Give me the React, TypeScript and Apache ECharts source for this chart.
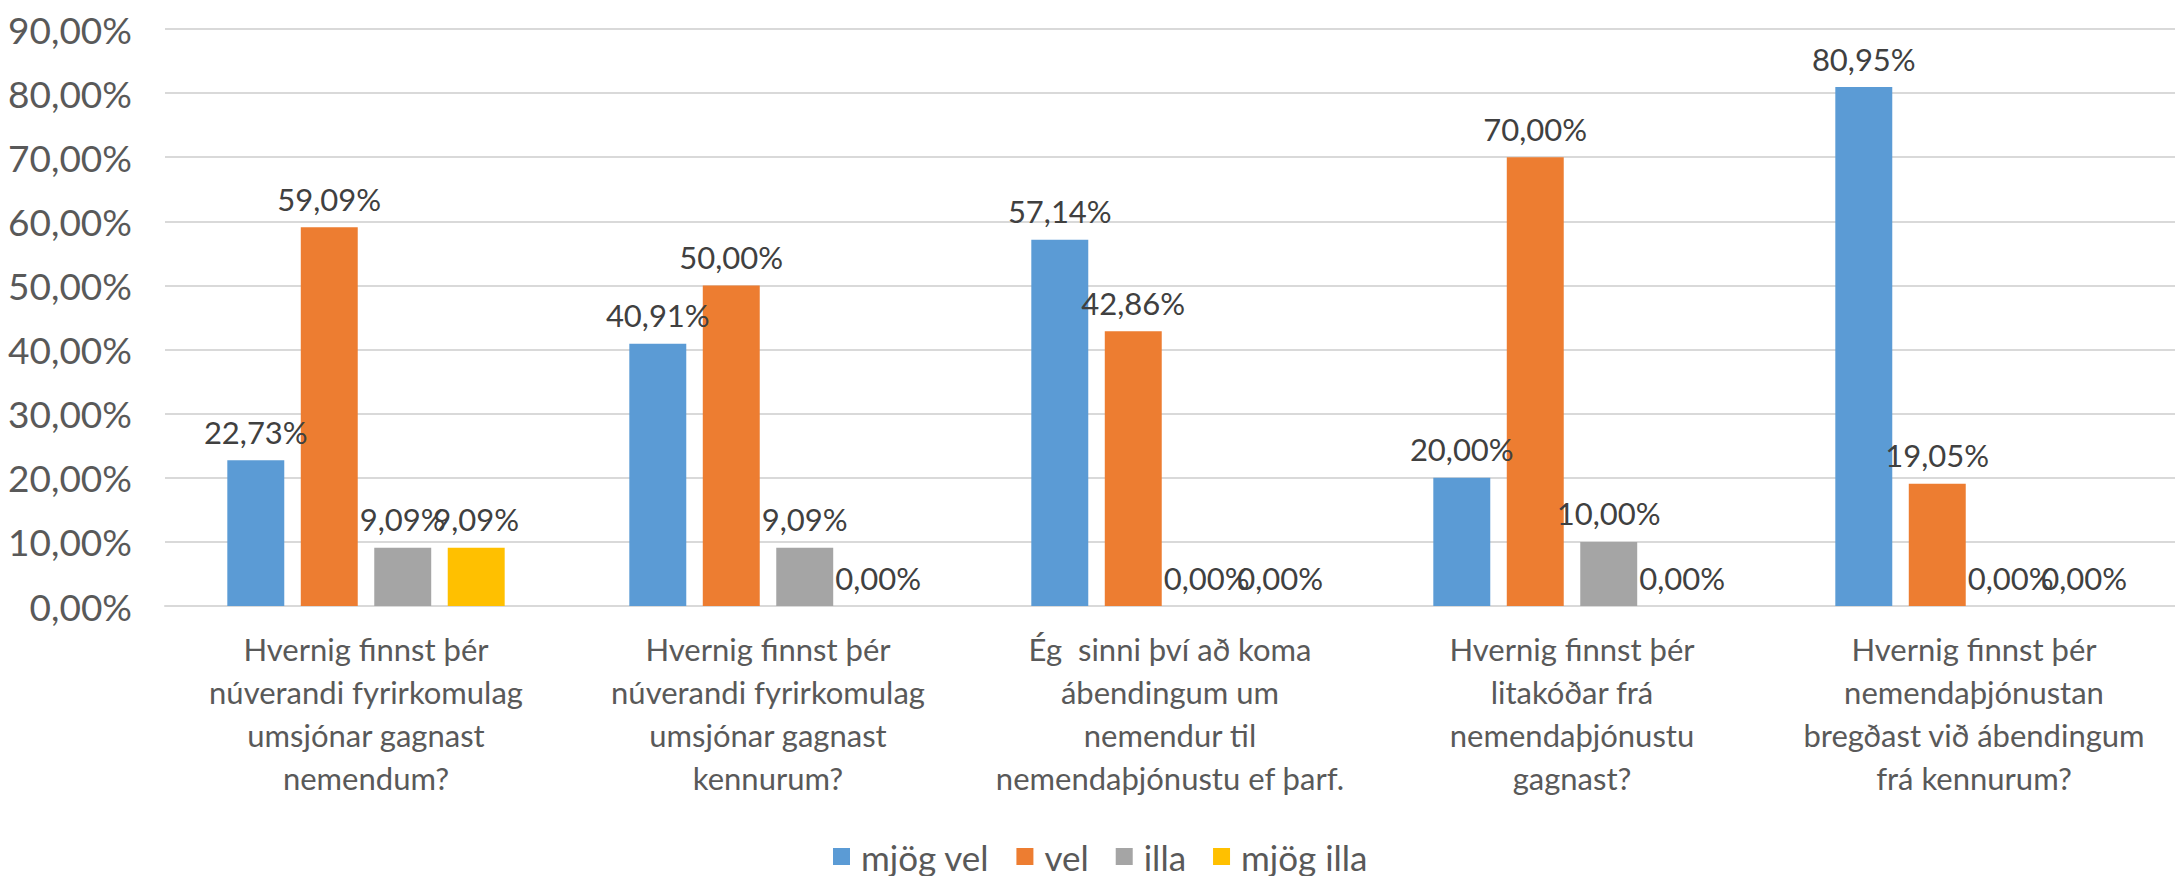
import React, { useEffect, useRef } from "react";
import * as echarts from "echarts";

const categories = [
  "Hvernig finnst þér\nnúverandi fyrirkomulag\numsjónar gagnast\nnemendum?",
  "Hvernig finnst þér\nnúverandi fyrirkomulag\numsjónar gagnast\nkennurum?",
  "Ég  sinni því að koma\nábendingum um\nnemendur til\nnemendaþjónustu ef þarf.",
  "Hvernig finnst þér\nlitakóðar frá\nnemendaþjónustu\ngagnast?",
  "Hvernig finnst þér\nnemendaþjónustan\nbregðast við ábendingum\nfrá kennurum?",
];

const seriesNames = ["mjög vel", "vel", "illa", "mjög illa"];
const mjogVel = [22.73, 40.91, 57.14, 20.0, 80.95];
const vel = [59.09, 50.0, 42.86, 70.0, 19.05];
const illa = [9.09, 9.09, 0, 10.0, 0];
const mjogIlla = [9.09, 0, 0, 0, 0];
const colors = ["#5B9BD5", "#ED7D31", "#A5A5A5", "#FFC000"];

const fmt = (v: number) => v.toFixed(2).replace(".", ",") + "%";

export default function App() {
  const ref = useRef<HTMLDivElement>(null);
  useEffect(() => {
    document.body.style.margin = "0";
    const chart = echarts.init(ref.current!, null, { renderer: "svg" });
    const font = "Lato";
    const data = [mjogVel, vel, illa, mjogIlla];
    chart.setOption({
      animation: false,
      textStyle: { fontFamily: font },
      grid: { left: 165, right: -13, top: 29, bottom: 270, containLabel: false },
      legend: {
        left: 828,
        top: 834,
        itemWidth: 17,
        itemHeight: 17,
        itemGap: 27,
        icon: "rect",
        textStyle: { fontFamily: font, fontSize: 35, color: "#595959", padding: [0, 0, 0, 6] },
        data: seriesNames,
      },
      xAxis: {
        type: "category",
        data: categories,
        axisLine: { show: true, lineStyle: { color: "#D9D9D9", width: 2 } },
        axisTick: { show: false },
        axisLabel: {
          interval: 0,
          margin: 21,
          fontFamily: font,
          fontSize: 31,
          lineHeight: 43,
          color: "#595959",
          align: "center",
        },
      },
      yAxis: {
        type: "value",
        min: 0,
        max: 90,
        interval: 10,
        axisLine: { show: false },
        axisTick: { show: false },
        splitLine: { lineStyle: { color: "#D9D9D9", width: 2 } },
        axisLabel: {
          margin: 33,
          fontFamily: font,
          fontSize: 37,
          color: "#595959",
          formatter: (v: number) => fmt(v),
        },
      },
      series: data.map((d, i) => ({
        name: seriesNames[i],
        type: "bar",
        data: d,
        barGap: "29%",
        barCategoryGap: "31%",
        itemStyle: { color: colors[i] },
        label: {
          show: true,
          position: "top",
          distance: 13,
          fontFamily: font,
          fontSize: 31,
          color: "#404040",
          formatter: (p: any) => fmt(p.value),
        },
      })),
    });
    return () => chart.dispose();
  }, []);
  return <div ref={ref} style={{ width: 2175, height: 876 }} />;
}
